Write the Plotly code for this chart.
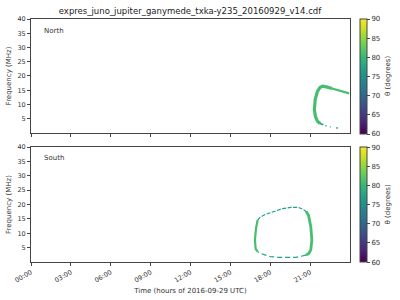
import plotly.graph_objects as go
from plotly.subplots import make_subplots
from plotly.colors import sample_colorscale

title = "expres_juno_jupiter_ganymede_txka-y235_20160929_v14.cdf"
tick_hours = [0, 3, 6, 9, 12, 15, 18, 21]
tick_labels = ["00:00", "03:00", "06:00", "09:00", "12:00", "15:00", "18:00", "21:00"]
freq_ticks = [5, 10, 15, 20, 25, 30, 35, 40]
cbar_ticks = [60, 65, 70, 75, 80, 85, 90]
theta_min, theta_max = 60, 90

# North hemisphere emission
north_main_t = [21.75, 21.55, 21.4, 21.32, 21.38, 21.55, 21.75, 21.95, 22.3, 22.65]
north_main_f = [3.3, 4.1, 5.8, 8.2, 11.7, 14.6, 16.0, 16.4, 16.1, 15.6]
north_main_theta = 81
north_tail_t = [22.65, 23.2, 23.93]
north_tail_f = [15.6, 14.8, 13.9]
north_low_t = [21.55, 21.75, 22.0]
north_low_f = [4.1, 3.3, 2.9]
north_low_theta = 77
north_dash_t = [[22.15, 22.25], [22.48, 22.55], [22.95, 23.1]]
north_dash_f = [[2.6, 2.5], [2.15, 2.1], [1.75, 1.75]]
north_dash_theta = 76.5

# South hemisphere emission
south_left_t = [17.05, 16.93, 16.85, 16.9, 17.05]
south_left_f = [14.6, 11.7, 7.7, 4.6, 3.6]
south_left_theta = 81
south_top_t = [17.05, 17.25, 17.6, 18.18, 18.93, 19.55, 20.1, 20.43, 20.7, 20.88]
south_top_f = [14.6, 15.6, 16.5, 17.5, 18.6, 19.0, 19.0, 18.4, 17.6, 16.3]
south_top_theta = 77
south_right_t = [20.7, 20.88, 21.05, 21.13, 21.05, 20.9, 20.68]
south_right_f = [17.6, 16.3, 12.3, 7.7, 4.2, 3.0, 2.4]
south_right_theta = 81
south_bottom_t = [20.68, 20.3, 19.93, 19.3, 18.63, 18.0, 17.55, 17.25, 17.05]
south_bottom_f = [2.4, 1.9, 1.6, 1.6, 1.6, 1.9, 2.4, 3.0, 3.6]
south_bottom_theta = 77


def col(theta):
    v = (theta - theta_min) / (theta_max - theta_min)
    return sample_colorscale("Viridis", [v])[0]


fig = make_subplots(rows=2, cols=1, shared_xaxes=True, vertical_spacing=0.058)


def add_line(t, f, theta, width, row, dash="solid"):
    fig.add_trace(go.Scatter(x=t, y=f, mode="lines",
                             line=dict(color=col(theta), width=width, dash=dash, shape="linear"),
                             showlegend=False, hoverinfo="skip"), row=row, col=1)


add_line(north_low_t, north_low_f, north_low_theta, 1.5, 1)
add_line(north_main_t, north_main_f, north_main_theta, 3.2, 1)
add_line(north_tail_t, north_tail_f, north_main_theta, 2.2, 1)
for t, f in zip(north_dash_t, north_dash_f):
    add_line(t, f, north_dash_theta, 1.3, 1)

add_line(south_top_t, south_top_f, south_top_theta, 1.2, 2, dash="4px,1.5px")
add_line(south_bottom_t, south_bottom_f, south_bottom_theta, 1.2, 2, dash="5px,3px")
add_line(south_left_t, south_left_f, south_left_theta, 2.2, 2)
add_line(south_right_t, south_right_f, south_right_theta, 2.8, 2)

# colorbar carriers
for row, ca in [(1, "coloraxis"), (2, "coloraxis2")]:
    fig.add_trace(go.Scatter(x=[None], y=[None], mode="markers",
                             marker=dict(color=[theta_min], coloraxis=ca),
                             showlegend=False, hoverinfo="skip"), row=row, col=1)

font = "DejaVu Sans"
axcol = "#444"
cb_common = dict(thickness=7, xanchor="left", x=1.031, xpad=0, ypad=0,
                 tickvals=cbar_ticks, ticks="outside", ticklen=3,
                 tickfont=dict(size=7, color="#333", family=font),
                 outlinewidth=1, outlinecolor=axcol, len=0.473, lenmode="fraction",
                 yanchor="top")
fig.update_layout(
    width=400, height=300,
    margin=dict(l=31, r=50, t=19, b=38, autoexpand=False),
    paper_bgcolor="white", plot_bgcolor="white",
    font=dict(family=font, size=7, color="#333"),
    coloraxis=dict(colorscale="Viridis", cmin=theta_min, cmax=theta_max,
                   colorbar=dict(cb_common, y=1.0)),
    coloraxis2=dict(colorscale="Viridis", cmin=theta_min, cmax=theta_max,
                    colorbar=dict(cb_common, y=0.473)),
    title=dict(text=title, x=(190) / 400, xanchor="center", y=1 - 11 / 300,
               yanchor="middle", font=dict(size=8.5, color="#222", family=font)),
)

for r in [1, 2]:
    fig.update_xaxes(range=[0, 24], tickvals=tick_hours, ticktext=tick_labels,
                     ticks="outside", ticklen=3, tickcolor=axcol, automargin=False,
                     showline=True, linecolor=axcol, linewidth=1, mirror=True,
                     showgrid=False, zeroline=False,
                     tickfont=dict(size=6.5, color="#333"), row=r, col=1)
    fig.update_yaxes(range=[0, 40], tickvals=freq_ticks, automargin=False,
                     ticks="outside", ticklen=3, tickcolor=axcol,
                     showline=True, linecolor=axcol, linewidth=1, mirror=True,
                     showgrid=False, zeroline=False,
                     title=dict(text="Frequency (MHz)", standoff=4, font=dict(size=7)),
                     tickfont=dict(size=6.5, color="#333"), row=r, col=1)

fig.update_xaxes(showticklabels=False, row=1, col=1)
fig.update_xaxes(tickangle=-30, title=dict(text="Time (hours of 2016-09-29 UTC)",
                                           standoff=4, font=dict(size=7)), row=2, col=1)
fig.update_layout(yaxis=dict(domain=[0.531, 1.0]), yaxis2=dict(domain=[0.0, 0.473]))

fig.add_annotation(text="North", x=0.035, y=0.952, xref="paper", yref="paper",
                   xanchor="left", yanchor="middle", showarrow=False, font=dict(size=7))
fig.add_annotation(text="South", x=0.035, y=0.426, xref="paper", yref="paper",
                   xanchor="left", yanchor="middle", showarrow=False, font=dict(size=7))
for yc in [(1.0 + 0.531) / 2, 0.473 / 2]:
    fig.add_annotation(text="θ (degrees)", x=(388 - 31) / 319, y=yc,
                       xref="paper", yref="paper", textangle=-90, showarrow=False,
                       xanchor="center", yanchor="middle", font=dict(size=7))

fig.write_html("out.html")
